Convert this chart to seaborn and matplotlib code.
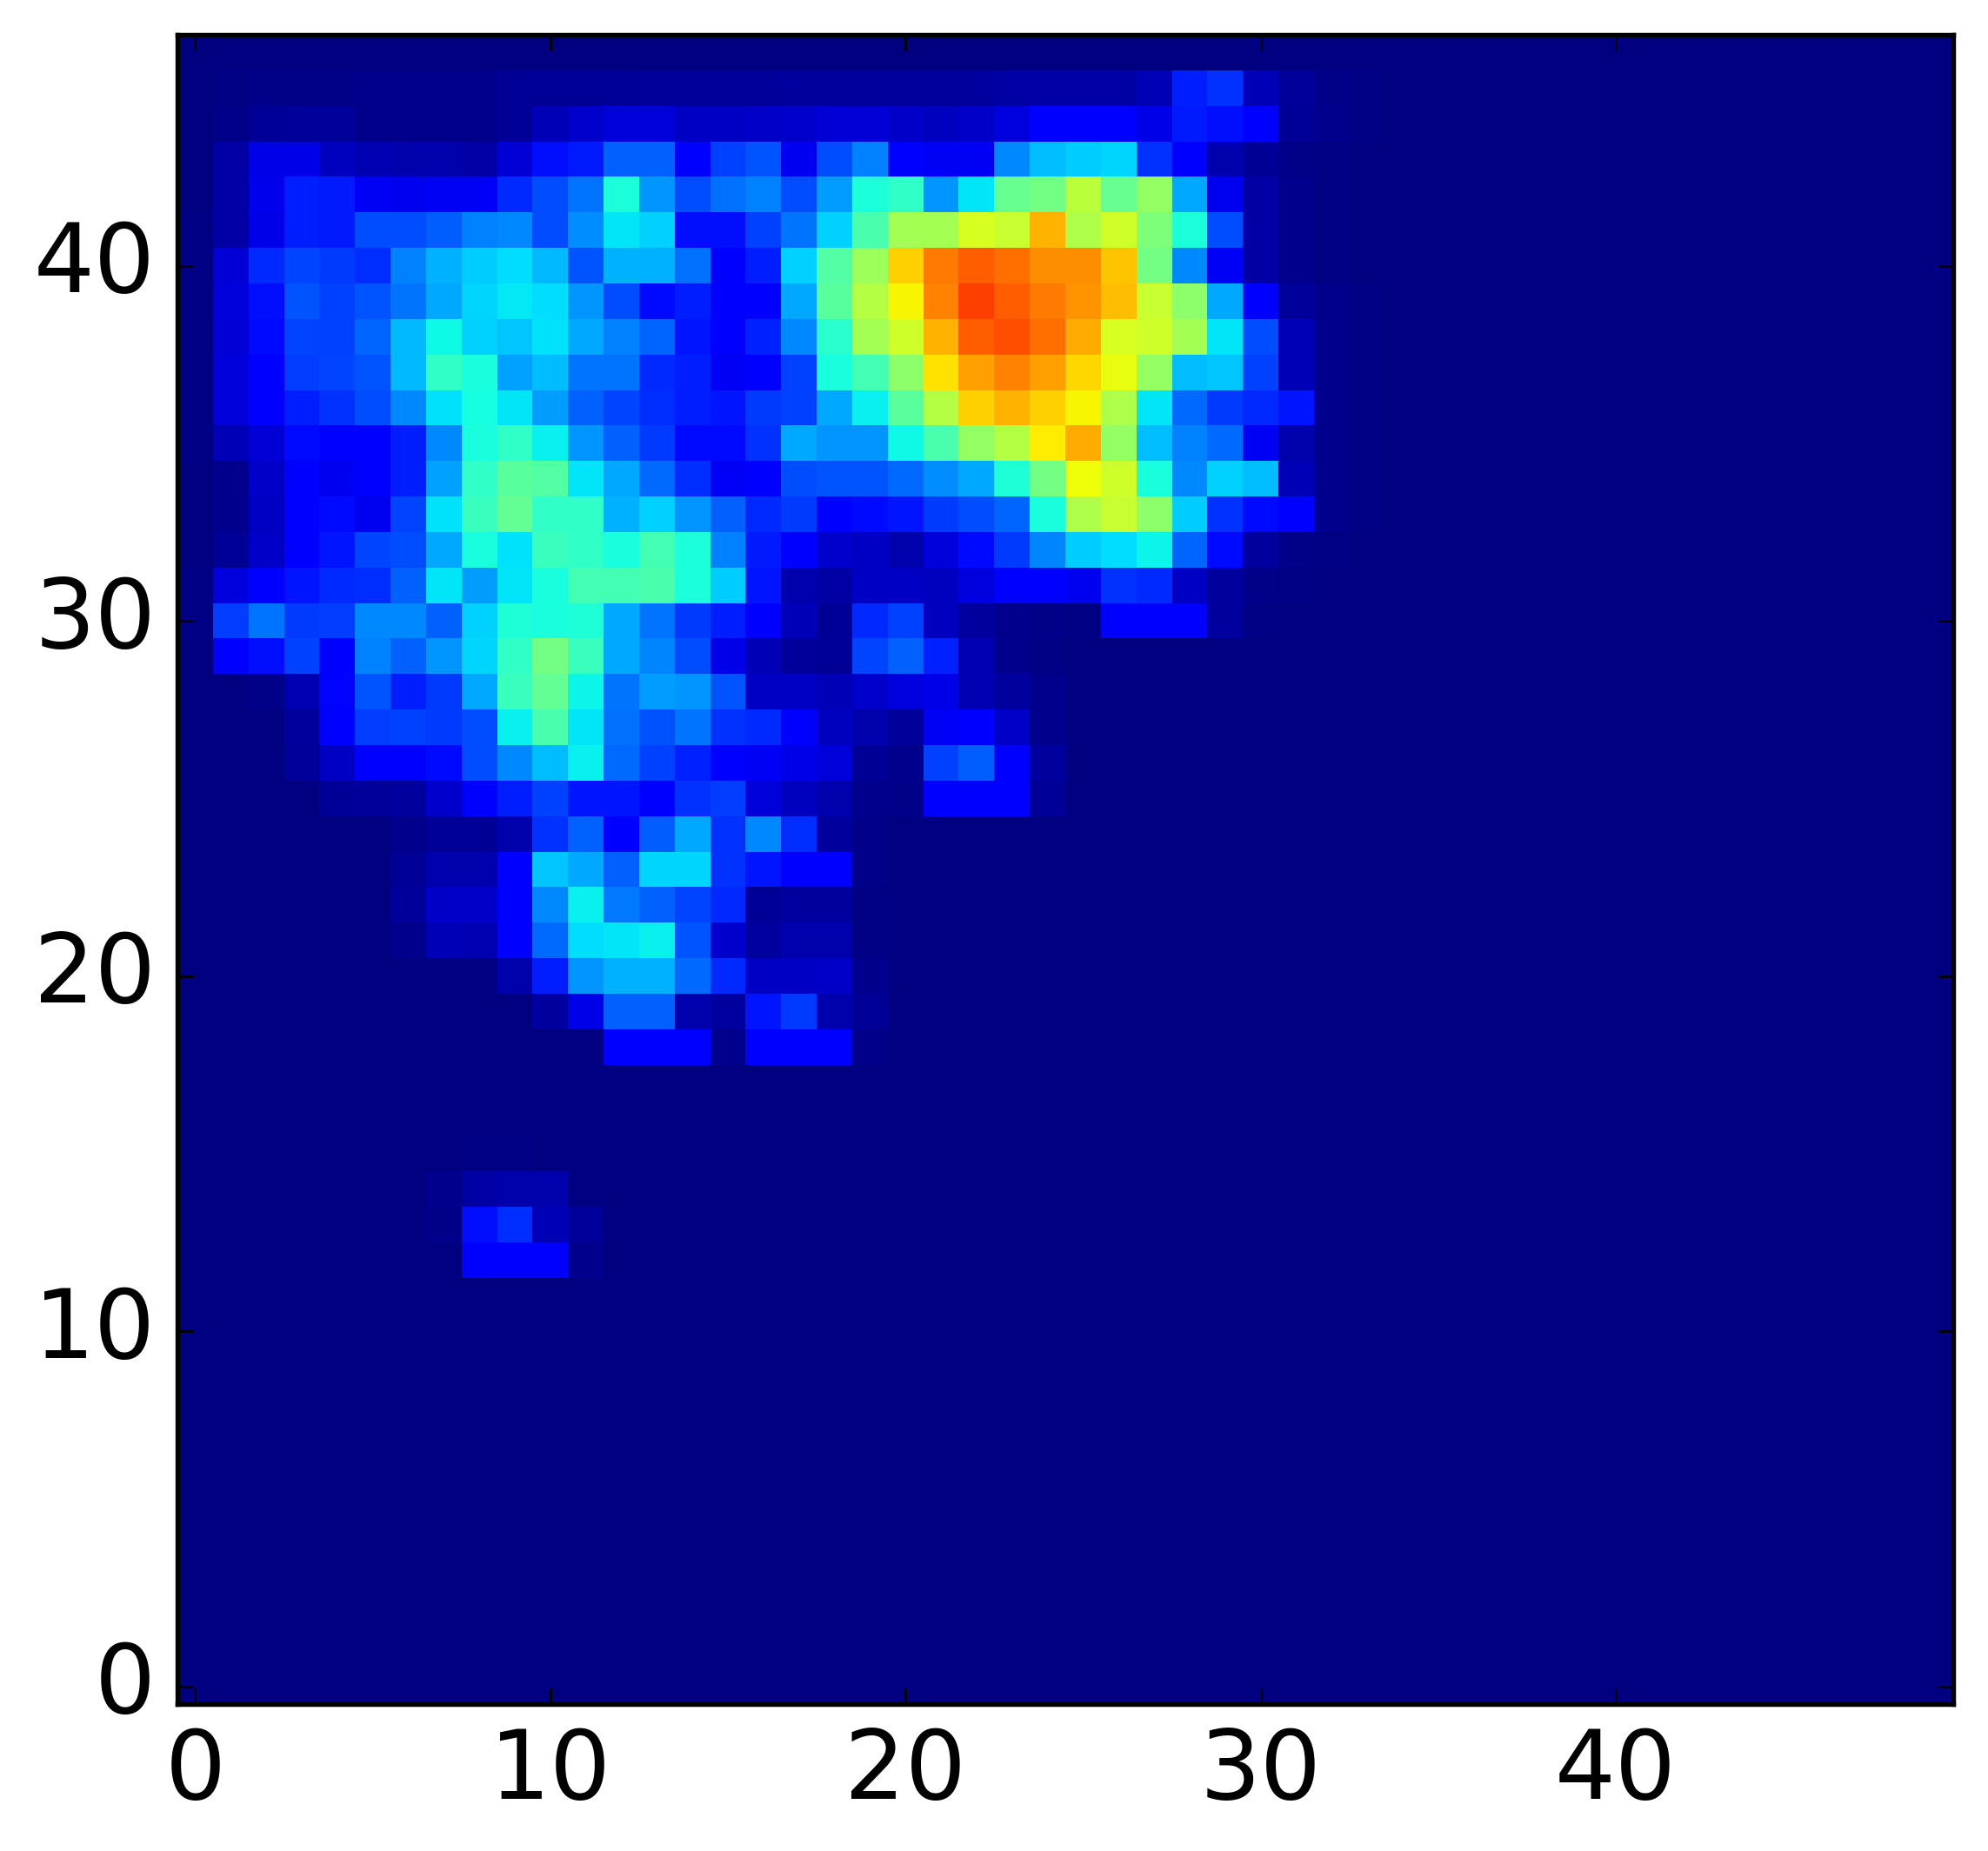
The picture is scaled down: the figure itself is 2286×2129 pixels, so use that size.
import numpy as np
import matplotlib
matplotlib.use("Agg")
import matplotlib.pyplot as plt
import seaborn as sns

n_cols = 50
n_rows = 47
x_ticks = [0, 10, 20, 30, 40]
y_ticks = [0, 10, 20, 30, 40]

# Values read per row, from the left-most column; columns not listed are 0
row_45 = [0,.005,.01,.01,.01,.012,.012,.012,.012,.02,.02,.02,.02,.025,.025,.025,.025,.03,.03,.03,.03,.03,.03,.035,.035,.035,.035,.05,.155,.175,.05,.025,.01,.005]
row_44 = [0,.01,.02,.025,.025,.015,.015,.015,.015,.02,.05,.07,.08,.08,.06,.06,.065,.07,.075,.075,.065,.055,.065,.085,.11,.11,.11,.09,.15,.14,.11,.02,.012,.005]
row_43 = [0,.035,.09,.09,.055,.045,.04,.04,.035,.075,.14,.15,.22,.22,.11,.19,.21,.1,.2,.25,.115,.105,.105,.26,.31,.325,.335,.175,.11,.04,.02,.01,.005]
row_42 = [0,.035,.095,.155,.15,.105,.1,.105,.105,.165,.2,.24,.385,.27,.2,.235,.25,.2,.28,.385,.41,.27,.35,.475,.49,.575,.475,.53,.29,.1,.035,.015,.005]
row_41 = [.005,.035,.09,.155,.15,.2,.2,.215,.25,.26,.2,.265,.35,.33,.14,.14,.19,.24,.33,.44,.55,.55,.61,.59,.72,.56,.6,.5,.385,.2,.035,.015,.005]
row_40 = [.005,.075,.165,.195,.18,.17,.25,.3,.325,.34,.305,.21,.3,.3,.235,.11,.155,.33,.45,.54,.69,.78,.81,.79,.76,.76,.7,.49,.26,.105,.035,.015,.007]
row_39 = [.005,.08,.14,.21,.19,.21,.24,.29,.335,.355,.34,.27,.2,.135,.155,.115,.11,.29,.46,.57,.65,.77,.84,.81,.78,.75,.71,.59,.52,.29,.11,.025,.012,.005]
row_38 = [.005,.075,.135,.195,.19,.225,.305,.37,.33,.32,.345,.29,.25,.225,.145,.11,.16,.26,.4,.55,.6,.72,.81,.825,.79,.73,.61,.6,.55,.35,.2,.05,.015,.005]
row_37 = [.005,.08,.11,.185,.195,.21,.305,.41,.38,.285,.31,.24,.24,.165,.155,.105,.11,.19,.38,.43,.52,.67,.74,.77,.74,.68,.63,.53,.31,.32,.19,.05,.015,.005]
row_36 = [.005,.08,.11,.155,.175,.2,.26,.345,.375,.35,.28,.22,.195,.17,.155,.145,.18,.19,.29,.36,.46,.57,.69,.72,.69,.65,.56,.35,.23,.18,.165,.145,.015,.005]
row_35 = [.005,.05,.075,.135,.11,.11,.155,.26,.38,.41,.36,.27,.22,.18,.135,.135,.175,.29,.27,.27,.37,.44,.53,.57,.66,.73,.53,.31,.25,.23,.105,.04,.012,.005]
row_34 = [0,.015,.065,.11,.1,.11,.155,.285,.41,.46,.45,.35,.29,.23,.17,.105,.115,.2,.21,.21,.23,.265,.29,.39,.49,.64,.6,.38,.26,.33,.31,.05,.015,.005]
row_33 = [0,.015,.06,.11,.135,.1,.195,.345,.42,.47,.41,.41,.3,.33,.27,.22,.165,.18,.11,.135,.145,.18,.2,.225,.38,.56,.59,.52,.325,.175,.135,.11,.015,.005]
row_32 = [0,.02,.065,.11,.145,.195,.2,.29,.38,.345,.42,.41,.38,.43,.385,.25,.15,.11,.07,.06,.04,.08,.135,.18,.255,.325,.34,.365,.225,.135,.03,.01,.005]
row_31 = [.005,.085,.12,.145,.165,.17,.22,.35,.28,.35,.38,.43,.43,.44,.385,.325,.145,.04,.035,.06,.06,.055,.085,.11,.115,.1,.175,.165,.06,.03,.01,.005]
row_30 = [.005,.185,.24,.18,.185,.26,.26,.22,.33,.39,.38,.39,.29,.24,.18,.155,.11,.05,.02,.165,.19,.055,.03,.015,.008,.005,.11,.11,.11,.03,.005]
row_29 = [0,.11,.14,.19,.11,.25,.22,.27,.335,.41,.49,.42,.29,.255,.2,.09,.05,.025,.02,.195,.22,.16,.045,.015,.005]
row_28 = [0,0,.01,.045,.125,.21,.155,.18,.29,.42,.47,.365,.24,.28,.27,.21,.06,.06,.05,.07,.085,.09,.045,.03,.012]
row_27 = [0,0,.002,.03,.115,.185,.19,.18,.2,.36,.44,.35,.235,.205,.24,.175,.165,.11,.055,.04,.025,.105,.11,.065,.015]
row_26 = [0,0,0,.025,.06,.11,.11,.135,.2,.26,.31,.36,.23,.19,.16,.11,.105,.09,.08,.02,.015,.19,.215,.11,.03]
row_25 = [0,0,0,0,.02,.025,.03,.07,.11,.155,.19,.145,.145,.12,.175,.185,.08,.055,.04,.015,.008,.11,.11,.11,.02]
row_24 = [0,0,0,0,0,0,.015,.02,.02,.04,.175,.22,.11,.215,.29,.175,.26,.17,.03,.01]
row_23 = [0,0,0,0,0,0,.02,.04,.04,.11,.32,.29,.22,.335,.335,.175,.145,.11,.11,.01]
row_22 = [0,0,0,0,0,0,.025,.065,.065,.11,.26,.36,.245,.22,.195,.165,.02,.03,.03,.005]
row_21 = [0,0,0,0,0,0,.015,.05,.045,.11,.23,.34,.35,.36,.21,.07,.03,.04,.04,.005]
row_20 = [0,0,0,0,0,0,0,0,0,.04,.155,.27,.3,.3,.23,.165,.06,.06,.065,.015]
row_19 = [0,0,0,0,0,0,0,0,0,0,.03,.09,.22,.22,.04,.03,.145,.18,.04,.02]
row_18 = [0,0,0,0,0,0,0,0,0,0,0,0,.11,.11,.11,.015,.11,.11,.11,.01]
row_15 = [0,0,0,0,0,0,0,0,.005,.005,.003]
row_14 = [0,0,0,0,0,0,0,.015,.035,.04,.04,.003]
row_13 = [0,0,0,0,0,0,0,.01,.14,.17,.05,.025]
row_12 = [0,0,0,0,0,0,0,.002,.11,.11,.11,.015]

known_rows = {
    45: row_45, 44: row_44, 43: row_43, 42: row_42, 41: row_41, 40: row_40,
    39: row_39, 38: row_38, 37: row_37, 36: row_36, 35: row_35, 34: row_34,
    33: row_33, 32: row_32, 31: row_31, 30: row_30, 29: row_29, 28: row_28,
    27: row_27, 26: row_26, 25: row_25, 24: row_24, 23: row_23, 22: row_22,
    21: row_21, 20: row_20, 19: row_19, 18: row_18, 15: row_15, 14: row_14,
    13: row_13, 12: row_12,
}
matrix = np.zeros((n_rows, n_cols))
for r, vals in known_rows.items():
    matrix[r, :len(vals)] = vals

sns.set_theme(style="white", rc={"font.family": "DejaVu Sans"})
W, H, dpi = 2286, 2129, 300
fig = plt.figure(figsize=(W / dpi, H / dpi), dpi=dpi, facecolor="white")
ax = fig.add_axes([204 / W, 1 - 1960 / H, (2246 - 204) / W, (1960 - 40) / H])
sns.heatmap(matrix, cmap="jet", vmin=0, vmax=1, cbar=False, ax=ax,
            square=False, linewidths=0, rasterized=True)
ax.set_xlim(0, n_cols)
ax.set_ylim(0, n_rows)
ax.set_xticks([t + 0.5 for t in x_ticks], [str(t) for t in x_ticks], rotation=0)
ax.set_yticks([t + 0.5 for t in y_ticks], [str(t) for t in y_ticks], rotation=0)
ax.set_axisbelow(False)
ax.tick_params(axis="both", which="major", direction="in", top=True, right=True,
               bottom=True, left=True, length=4.4, width=0.7, color="black",
               labelsize=26.4, labelcolor="black")
ax.tick_params(axis="x", pad=6)
ax.tick_params(axis="y", pad=6)
for s in ax.spines.values():
    s.set_visible(True)
    s.set_linewidth(1.3)
    s.set_color("black")
    s.set_zorder(5)
fig.savefig("out.png", dpi=dpi, facecolor="white")
